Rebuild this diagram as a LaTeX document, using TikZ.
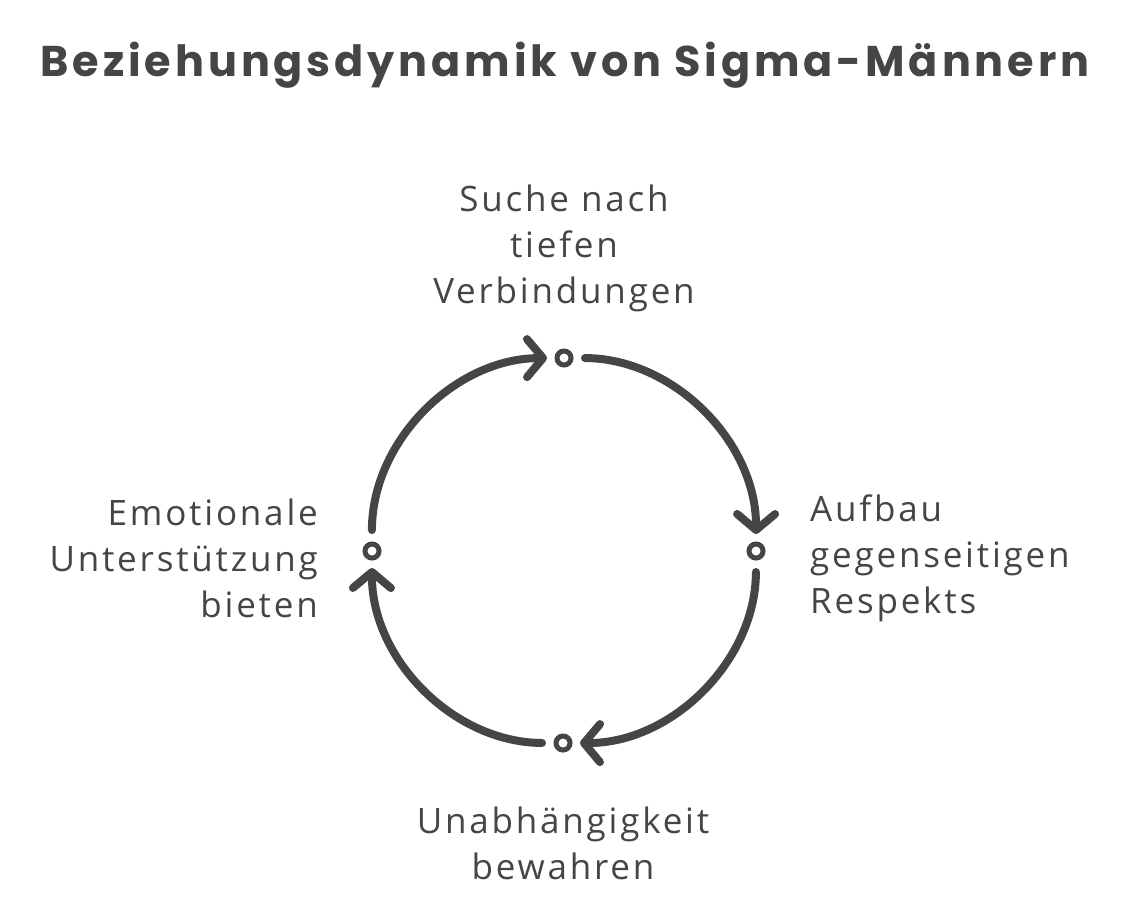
\documentclass[tikz,border=0pt]{standalone}
\usepackage{fontspec}
\setmainfont{Open Sans}[LetterSpace=8]
\newfontfamily\titlefont{Poppins}[LetterSpace=9]
\usetikzlibrary{arrows.meta}
\definecolor{ink}{HTML}{454545}
\tikzset{
  dot/.style={circle, draw=ink, line width=5pt, minimum size=14pt, inner sep=0pt, outer sep=0pt},
  lbl/.style={text=ink, font=\fontsize{35}{46}\selectfont, inner sep=0pt},
  cyc/.style={draw=ink, line width=8pt, line cap=round,
    -{Straight Barb[length=16pt,width=38pt,round]},
    shorten <=14pt, shorten >=10pt},
}
\begin{document}
\begin{tikzpicture}[x=1pt,y=-1pt]
\useasboundingbox (0,0) rectangle (1140,912);
\node[text=ink, font=\titlefont\bfseries\fontsize{43}{50}\selectfont, anchor=base, inner sep=0pt] (title) at (565,77) {Beziehungsdynamik von Sigma-Männern};
\node[dot] (top) at (564,358) {};
\node[dot] (right) at (756,551) {};
\node[dot] (bottom) at (563,743) {};
\node[dot] (left) at (372,551) {};
\draw[cyc] (top) to[bend left=45] (right);
\draw[cyc] (right) to[bend left=45] (bottom);
\draw[cyc] (bottom) to[bend left=45] (left);
\draw[cyc] (left) to[bend left=45] (top);
\node[lbl, align=center] (ltop) at (564,248) {Suche nach\\tiefen\\Verbindungen};
\node[lbl, align=left, anchor=west] (lright) at (810,558) {Aufbau\\gegenseitigen\\Respekts};
\node[lbl, align=right, anchor=east] (lleft) at (318,558) {Emotionale\\Unterstützung\\bieten};
\node[lbl, align=center] (lbottom) at (563,843) {Unabhängigkeit\\bewahren};
\end{tikzpicture}
\end{document}
